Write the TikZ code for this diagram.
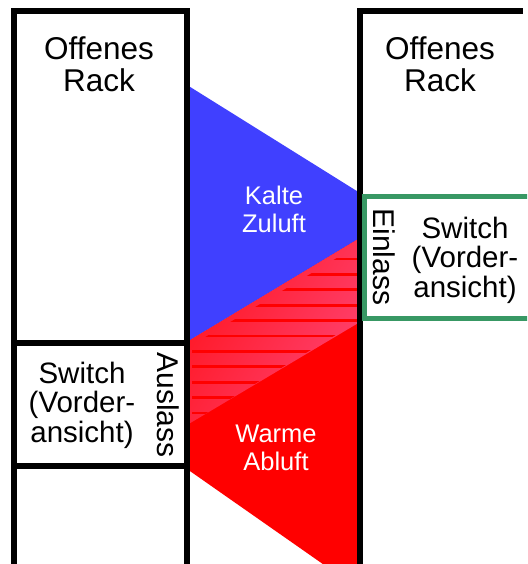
\documentclass[tikz,border=0pt]{standalone}
\usepackage{fontspec}
\setmainfont{Liberation Sans}
\definecolor{airblue}{RGB}{64,64,255}
\definecolor{airred}{RGB}{255,0,0}
\definecolor{mixA}{RGB}{255,22,34}
\definecolor{mixB}{RGB}{255,66,112}
\definecolor{swgreen}{RGB}{56,152,100}
\begin{document}
\begin{tikzpicture}[x=1pt,y=-1pt,
  rackline/.style={line width=6.5pt,black,line join=miter},
  greenline/.style={line width=5pt,swgreen,line join=miter},
  racklabel/.style={inner sep=0pt,align=center,font=\fontsize{31.5}{32}\selectfont},
  switchlabel/.style={inner sep=0pt,align=center,font=\fontsize{29.5}{29.5}\selectfont},
  airlabel/.style={inner sep=0pt,align=center,text=white,font=\fontsize{25.5}{28}\selectfont},
  portlabel/.style={inner sep=0pt,rotate=-90,font=\fontsize{30}{30}\selectfont},
  hatchline/.style={line width=2.8pt,airred}]
\useasboundingbox (0,0) rectangle (527,564);
\begin{scope}
\clip (0,0) rectangle (527,564);
% cold supply
\fill[airblue] (187,85) -- (360,193) -- (360,238) -- (187,342) -- cycle;
% warm exhaust
\fill[airred] (187,342) -- (360,238) -- (360,590) -- (187,469) -- cycle;
% mixing zone
\shade[left color=mixA,right color=mixB,shading angle=60] (187,342) -- (360,238) -- (360,322) -- (187,425) -- cycle;
\begin{scope}
\clip (192,200) rectangle (358,440);
\clip (170,358.2) -- (400,220) -- (400,296) -- (170,435.3) -- cycle;
\foreach \k in {0,...,10}{
  \draw[hatchline] (150,259+15.4*\k) -- (400,259+15.4*\k);
}
\end{scope}
% racks
\draw[rackline] (14,580) -- (14,11) -- (187,11) -- (187,580);
\draw[rackline] (14,343) -- (187,343);
\draw[rackline] (14,466) -- (187,466);
\draw[rackline] (360,580) -- (360,11) -- (523,11);
\draw[greenline] (535,196.5) -- (364.5,196.5) -- (364.5,318.5) -- (535,318.5);
\end{scope}
% labels
\node[racklabel] (rackL) at (99,64) {Offenes\\Rack};
\node[racklabel] (rackR) at (440,64) {Offenes\\Rack};
\node[switchlabel] (swL) at (82,405) {Switch\\(Vorder-\\ansicht)};
\node[switchlabel] (swR) at (465,260) {Switch\\(Vorder-\\ansicht)};
\node[portlabel] (outL) at (168,405) {Auslass};
\node[portlabel] (inR) at (384,257) {Einlass};
\node[airlabel] (cold) at (274,209) {Kalte\\Zuluft};
\node[airlabel] (warm) at (276,448) {Warme\\Abluft};
\end{tikzpicture}
\end{document}
